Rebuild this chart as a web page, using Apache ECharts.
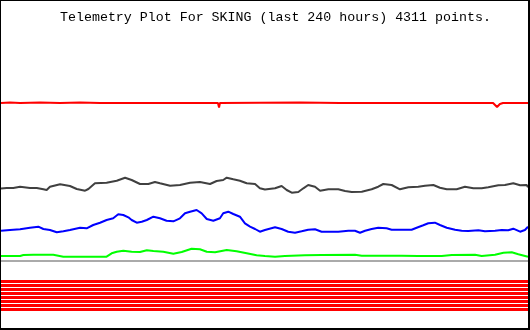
<!DOCTYPE html>
<html>
<head>
<meta charset="utf-8">
<script src="https://cdn.jsdelivr.net/npm/echarts@6/dist/echarts.min.js"></script>
<style>
html,body{margin:0;padding:0;background:#fff;}
#wrap{position:relative;width:530px;height:330px;}
#chart{position:absolute;left:0;top:0;width:530px;height:330px;}
#frame{position:absolute;left:0;top:0;width:530px;height:330px;box-sizing:border-box;border-style:solid;border-color:#000;border-width:1px 2px 2px 1px;pointer-events:none;}
</style>
</head>
<body>
<div id="wrap"><div id="chart"></div><div id="frame"></div></div>
<script>
// ---- data (x in hours over the last 240 h, y in plot level units; axis inverted) ----
const titleText = "Telemetry Plot For SKING (last 240 hours) 4311 points.";

const redHours = [0,4.1,8.7,17.8,26.9,36.0,45.1,50.1,50.8,51.5,68.3,69.0,69.7,98.8,99.3,99.7,136.2,154.4,197.2,197.8,198.6,224.1,225.9,227.2,228.6,240];
const redValues = [103,102.5,103,102.5,103,102.5,103,103,105,103,103,104,103,103,107.5,103,102.5,103,103,104,103,103,107,104,103,103];

const grayHours = [0,2.6,5.6,8.7,13.2,16.3,19.3,20.8,22.3,26.9,31.4,34.5,38.3,39.8,42.8,48.1,52.7,56.5,59.5,63.3,67.1,70.1,72.4,77.0,81.5,86.1,90.6,95.2,98.2,101.2,102.8,105.8,108.8,111.9,115.7,117.9,120.2,
  124.8,127.8,130.1,132.4,135.4,137.7,139.9,143.0,145.3,149.1,153.6,156.7,159.7,164.3,168.8,171.8,174.1,177.9,181.7,185.5,190.0,193.1,196.9,199.9,203.0,207.5,211.3,215.1,218.9,221.9,226.5,229.5,233.3,236.4,239.4,240];
const grayValues = [188.5,188,188,186.7,188,188,189.3,190,186.7,184.3,186,189,190.7,189,183.3,182.7,180.7,177.7,180,184,184,182,183.3,185.7,185,182.7,182,184,181,180,177.7,179.3,180.7,183.3,184,188.3,189.5,
  188.3,186,190,192.7,192,188.3,185,186.7,190.7,189.3,189.3,191,192,191.7,189.3,186.7,184,185,189.3,187.3,186.7,185.7,185,187.7,189.3,189.3,186.7,188.3,188.3,187.3,185.3,185,183.3,185.3,185,187.3];

const blueHours = [0,4.1,8.7,13.2,17.0,19.3,22.3,25.4,28.4,31.4,36.0,39.0,42.0,45.1,48.1,51.1,53.4,55.7,58.0,59.5,61.8,64.1,66.4,69.4,72.4,75.4,78.5,81.5,83.8,86.1,89.1,91.4,93.7,96.7,99.7,101.2,103.5,105.8,108.8,111.1,113.4,115.7,117.9,120.2,
  124.8,127.8,130.8,133.9,136.9,139.9,143.0,146.0,149.1,153.6,158.2,161.2,163.5,165.8,168.8,171.8,175.6,177.9,182.5,187.0,189.3,192.3,194.6,197.6,199.9,203.0,206.8,209.8,212.8,217.4,220.4,225.0,228.0,231.0,233.3,236.4,238.6,240];
const blueValues = [230.7,230,229.3,227.7,226.7,229,230,232.3,231.3,230,227.7,228.3,225,222.7,220,218.3,214.3,215,217.3,220,222.7,221.7,220,216.7,218.3,220.7,221.3,218.3,213.3,211.7,210,213.3,219,220.7,218.3,213.3,211.7,214,216.7,223.3,226.7,229,231.7,230,
  227.3,229,231.7,232.7,231.3,229.7,229.3,231.7,231.7,231.7,230.7,230.7,232.7,230.7,229,227.7,228.3,229.7,229.7,229.7,227.7,225.3,223.3,222.7,225,227.7,229.7,230.7,231,230.3,231.3,230.7,230,230.3,228.7,231.7,230,226.7];

const greenHours = [0,8.7,10.2,14.7,23.8,28.4,37.5,48.1,50.4,52.7,55.7,59.5,63.3,66.4,69.4,73.9,78.5,82.3,86.8,90.6,93.7,97.5,102.8,107.3,111.9,116.4,120.2,
  124.8,129.3,138.4,146.1,161.2,164.3,171.8,182.5,190.0,200.7,205.3,215.9,218.9,225.0,228.8,232.6,235.6,240];
const greenValues = [256,256,255,254.7,254.7,256.7,256.7,256.7,253.3,251.7,250.7,251.7,252,250.3,251,251.7,253.7,252,248.7,249.3,251.7,252.3,250,251.3,253.3,255.3,256,
  256.7,256,255.3,255,254.7,255.7,255.7,255.7,256,256,255,254.7,256,254.7,252.7,252.3,254.3,256.7];

const baseHours = [0,240];
const baseValues = [261,261];

const flagHours = [0,240];
const flagLevels = [281.5,285.5,289.5,293.5,297.5,301.5,305.5,309.5];

// ---- build ----
function zip(xs, ys){ return xs.map((x,i)=>[x, ys[i]]); }
function lineSeries(data, color, width){
  return {type:'line', data:data, showSymbol:false, symbol:'none', silent:true,
    lineStyle:{color:color, width:width}, itemStyle:{color:color}, animation:false};
}
const series = [];
flagLevels.forEach(l => series.push(lineSeries(flagHours.map(h=>[h,l]), '#ff0000', 3)));
series.push(lineSeries(zip(baseHours, baseValues), '#aaaaaa', 2));
series.push(lineSeries(zip(greenHours, greenValues), '#00ff00', 2));
series.push(lineSeries(zip(blueHours, blueValues), '#0000ff', 2));
series.push(lineSeries(zip(grayHours, grayValues), '#404040', 2));
series.push(lineSeries(zip(redHours, redValues), '#ff0000', 2));

const chart = echarts.init(document.getElementById('chart'), null, {renderer:'canvas', width:530, height:330});
chart.setOption({
  backgroundColor:'#ffffff',
  animation:false,
  title:{text:titleText, left:60, top:11, padding:0,
    textStyle:{fontFamily:'Liberation Mono, DejaVu Sans Mono, monospace', fontSize:13.3, fontWeight:'normal', color:'#000000'}},
  grid:{left:1, right:2, top:0, bottom:0, containLabel:false},
  xAxis:{type:'value', min:0, max:240, show:false, splitLine:{show:false}},
  yAxis:{type:'value', min:0, max:330, inverse:true, show:false, splitLine:{show:false}},
  series:series
});
</script>
</body>
</html>
